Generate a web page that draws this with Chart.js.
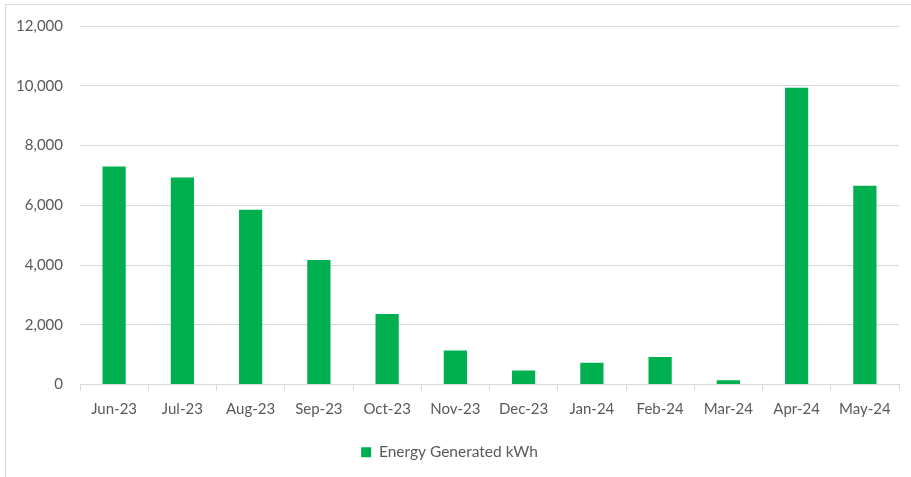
<!DOCTYPE html>
<html>
<head>
<meta charset="utf-8">
<script src="https://cdn.jsdelivr.net/npm/chart.js@4.4.1/dist/chart.umd.min.js"></script>
<style>
  html, body { margin: 0; padding: 0; background: #fff; overflow: hidden; }
  #wrap { position: relative; width: 911px; height: 477px; }
  #frame { position: absolute; left: 5px; top: 4px; width: 930px; height: 500px; border: 1px solid #d9d9d9; }
  canvas { position: absolute; left: 0; top: 0; }
</style>
</head>
<body>
<div id="wrap">
  <div id="frame"></div>
  <canvas id="dataChart" width="911" height="477"></canvas>
</div>
<script>
// months on the x axis
var months = ["Jun-23", "Jul-23", "Aug-23", "Sep-23", "Oct-23", "Nov-23",
              "Dec-23", "Jan-24", "Feb-24", "Mar-24", "Apr-24", "May-24"];
// energy generated, kWh
var energyKwh = [7300, 6930, 5850, 4170, 2360, 1140, 470, 730, 920, 140, 9930, 6650];
var seriesName = "Energy Generated kWh";
var yMax = 12000;
var yStep = 2000;

var textColor = "#595959";
var gridColor = "#d9d9d9";
var fontFamily = "Lato, 'Open Sans', sans-serif";

var ctx = document.getElementById("dataChart");

var chart = new Chart(ctx, {
    type: 'bar',
    data: {
        labels: months,
        datasets: [{
            label: seriesName,
            data: energyKwh,
            backgroundColor: "#00b050",
            borderWidth: 0,
            barPercentage: 0.34,
            categoryPercentage: 1.0
        }]
    },
    options: {
        responsive: false,
        animation: false,
        layout: { padding: { left: 0, right: 12, top: 21, bottom: 7 } },
        plugins: {
            tooltip: { enabled: false },
            legend: {
                position: 'bottom',
                labels: {
                    boxWidth: 10,
                    boxHeight: 10,
                    color: textColor,
                    font: { family: fontFamily, size: 15.5 },
                    padding: 10
                }
            }
        },
        scales: {
            x: {
                grid: {
                    offset: true,
                    drawOnChartArea: false,
                    drawTicks: true,
                    tickLength: 6,
                    color: gridColor
                },
                border: { color: gridColor },
                ticks: {
                    color: textColor,
                    font: { family: fontFamily, size: 15 },
                    padding: 10,
                    maxRotation: 0
                },
                afterFit: function (scale) { scale.height = 50; }
            },
            y: {
                min: 0,
                max: yMax,
                border: { display: false },
                grid: { color: gridColor, drawTicks: false },
                ticks: {
                    stepSize: yStep,
                    color: textColor,
                    font: { family: fontFamily, size: 15 },
                    padding: 17,
                    callback: function (v) { return v.toLocaleString('en-US'); }
                },
                afterFit: function (scale) { scale.width = 80; }
            }
        }
    }
});
</script>
</body>
</html>
